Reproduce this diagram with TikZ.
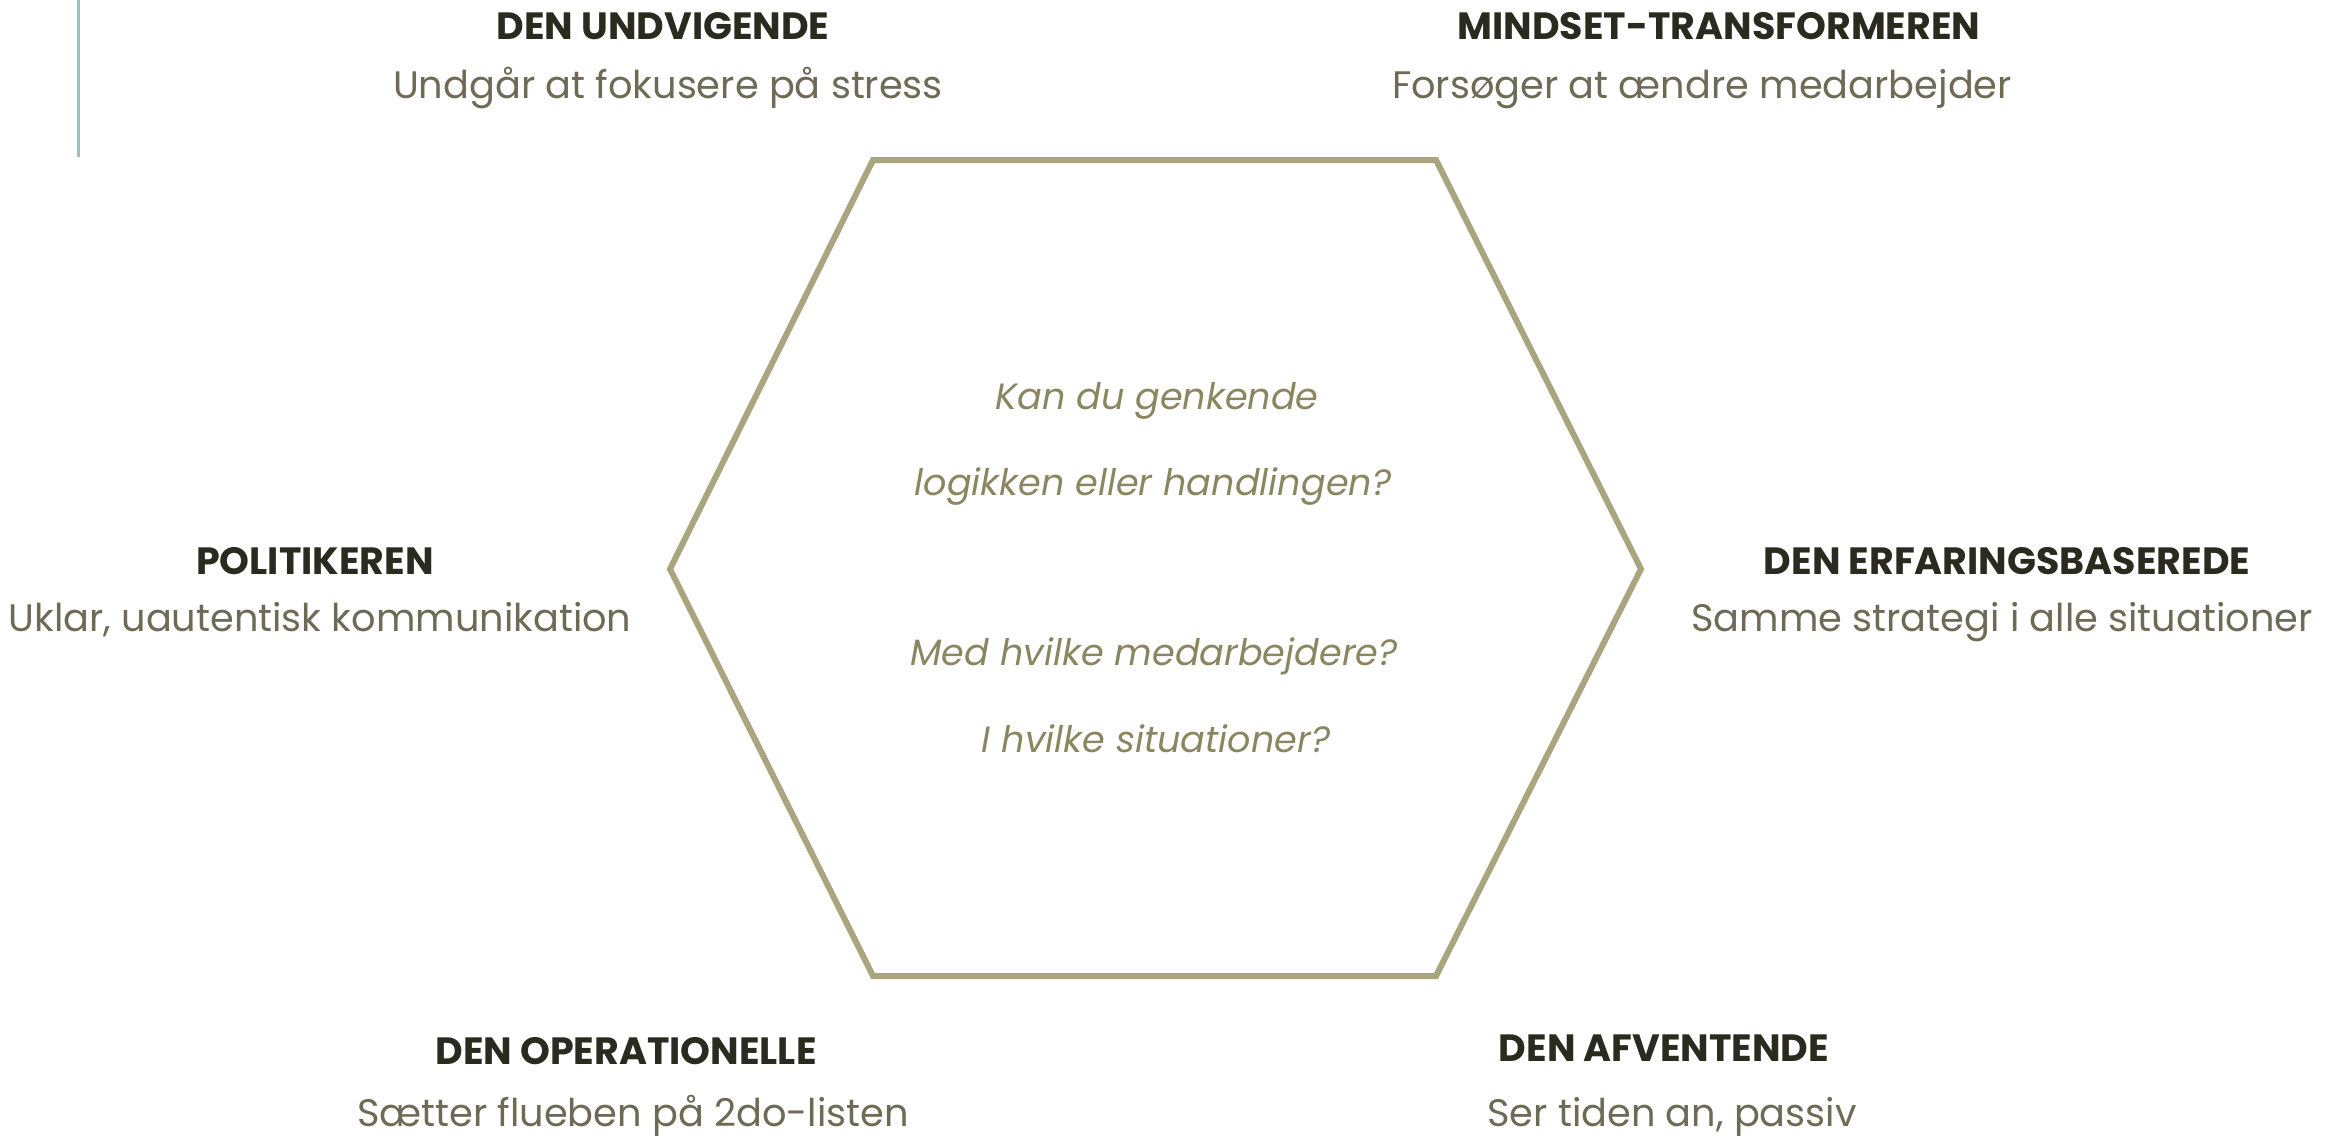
\documentclass[tikz,border=0pt]{standalone}
\usepackage{fontspec}
\setmainfont{Poppins}
\definecolor{headc}{HTML}{2B2A1F}
\definecolor{subc}{HTML}{6F6A55}
\definecolor{questc}{HTML}{8A8660}
\definecolor{hexc}{HTML}{A9A57E}
\definecolor{barc}{HTML}{9DBFC0}
\tikzset{
  head/.style={font=\fontsize{38pt}{45pt}\selectfont\bfseries, text=headc, anchor=base, inner sep=0pt},
  subline/.style={font=\fontsize{38.3pt}{46pt}\selectfont, text=subc, anchor=base, inner sep=0pt},
  quest/.style={font=\fontsize{36.6pt}{44pt}\selectfont\itshape, text=questc, anchor=base, inner sep=0pt},
  hexline/.style={draw=hexc, line width=6pt, line join=miter},
  bar/.style={draw=barc, line width=3pt}
}
\begin{document}
\begin{tikzpicture}[x=1pt,y=-1pt]
\useasboundingbox (0,0) rectangle (2341,1136);
% side bar
\coordinate (bt) at (78,0);
\coordinate (bb) at (78,157);
\draw[bar] (bt) -- (bb);
% hexagon
\coordinate (h1) at (873,160);
\coordinate (h2) at (1436,160);
\coordinate (h3) at (1641,569);
\coordinate (h4) at (1436,976);
\coordinate (h5) at (873,976);
\coordinate (h6) at (670,569);
\draw[hexline] (h1) -- (h2) -- (h3) -- (h4) -- (h5) -- (h6) -- cycle;
% labels
\node[head] (undh) at (663,39) {DEN UNDVIGENDE};
\node[subline] (unds) at (668,98) {Undgår at fokusere på stress};
\node[head] (minh) at (1719,39) {MINDSET-TRANSFORMEREN};
\node[subline] (mins) at (1702,98) {Forsøger at ændre medarbejder};
\node[head] (polh) at (315,574) {POLITIKEREN};
\node[subline] (pols) at (320,631) {Uklar, uautentisk kommunikation};
\node[head] (erfh) at (2007,574) {DEN ERFARINGSBASEREDE};
\node[subline] (erfs) at (2002,631) {Samme strategi i alle situationer};
\node[head] (oph) at (626,1064) {DEN OPERATIONELLE};
\node[subline] (ops) at (633,1126) {Sætter flueben på 2do-listen};
\node[head] (afh) at (1664,1061) {DEN AFVENTENDE};
\node[subline] (afs) at (1672,1126) {Ser tiden an, passiv};
% questions
\node[quest] (q1) at (1157,409) {Kan du genkende};
\node[quest] (q2) at (1153,495) {logikken eller handlingen?};
\node[quest] (q3) at (1154,665) {Med hvilke medarbejdere?};
\node[quest] (q4) at (1156,752) {I hvilke situationer?};
\end{tikzpicture}
\end{document}
